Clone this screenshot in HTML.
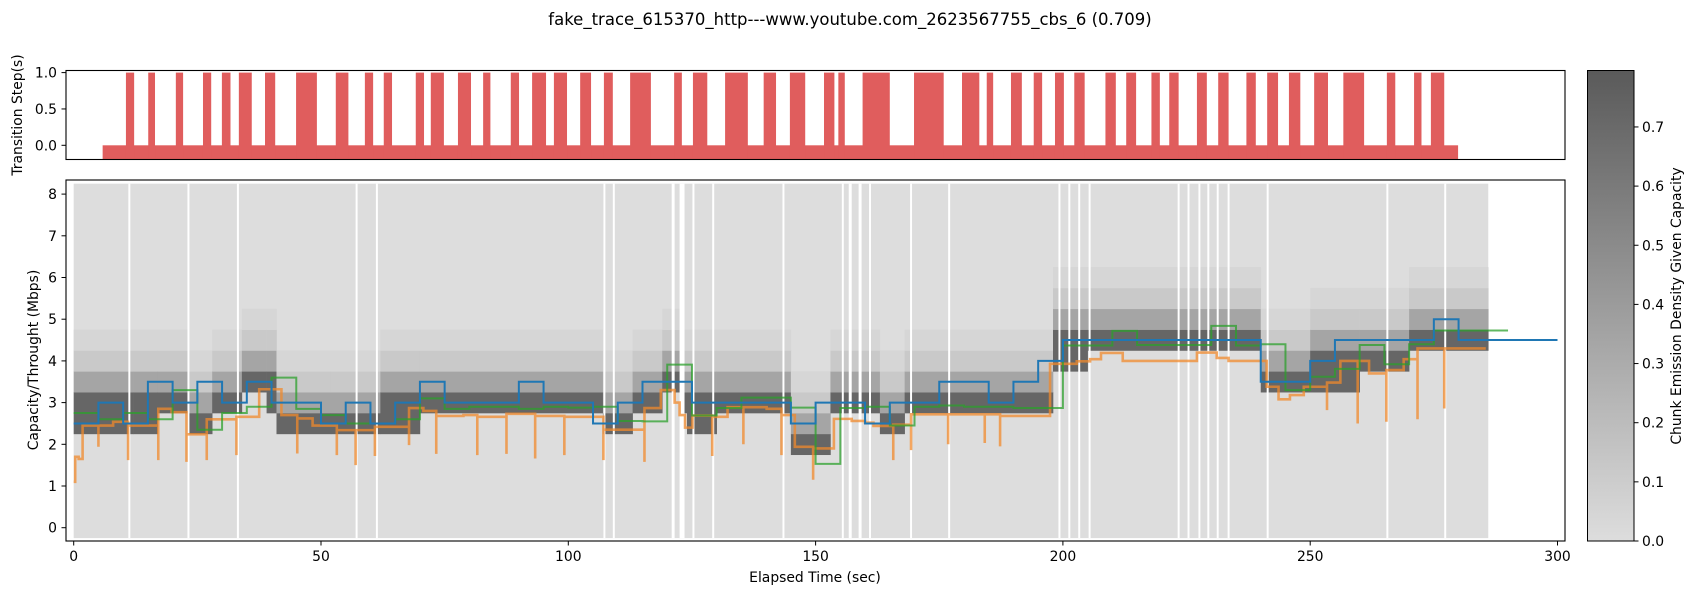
<!DOCTYPE html>
<html><head><meta charset="utf-8"><style>
html,body{margin:0;padding:0;background:#fff;}
svg{display:block;font-family:"DejaVu Sans","Liberation Sans",sans-serif;}
</style></head><body>
<svg id="chart" width="1700" height="600" viewBox="0 0 1700 600" xmlns="http://www.w3.org/2000/svg">
<defs>
<clipPath id="clipTop"><rect x="66" y="70.5" width="1499" height="89"/></clipPath>
<clipPath id="clipMain"><rect x="66" y="180" width="1499" height="361"/></clipPath>
<linearGradient id="cbGrad" x1="0" y1="1" x2="0" y2="0">
<stop offset="0" stop-color="#dddddd"/><stop offset="1" stop-color="#5a5a5a"/>
</linearGradient>
</defs>
<text x="850" y="25" text-anchor="middle" font-size="16.5" fill="#000">fake_trace_615370_http---www.youtube.com_2623567755_cbs_6 (0.709)</text>
<g id="topPanel" clip-path="url(#clipTop)"></g>
<rect x="66" y="70.5" width="1499" height="89" fill="none" stroke="#000" stroke-width="1.1"/>
<g id="mainPanel" clip-path="url(#clipMain)"></g>
<rect x="66" y="180" width="1499" height="361" fill="none" stroke="#000" stroke-width="1.1"/>
<g id="axes"></g>
<rect x="1587.5" y="70.5" width="46.5" height="470.5" fill="url(#cbGrad)" stroke="#000" stroke-width="1"/>
<text transform="translate(22,115) rotate(-90)" text-anchor="middle" font-size="13.9">Transition Step(s)</text>
<text transform="translate(38,360) rotate(-90)" text-anchor="middle" font-size="13.9">Capacity/Throught (Mbps)</text>
<text x="815" y="582" text-anchor="middle" font-size="13.9">Elapsed Time (sec)</text>
<text transform="translate(1681,306) rotate(-90)" text-anchor="middle" font-size="13.9">Chunk Emission Density Given Capacity</text>
</svg>
<script>
const tsStart=[10.56,15.07,20.65,26.14,29.96,33.39,38.68,44.96,52.99,58.87,62.69,69.16,72.2,77.69,82.78,88.37,92.68,97.09,102.4,107.2,112.5,121.4,125.2,131.7,139.5,144.8,151.7,154.6,159.5,169.9,179.6,184.6,189.5,194.1,198.4,202.3,208.6,212.8,217.9,221.5,227.1,231.4,237.1,241.3,245.7,250.8,256.7,265.5,271.0,274.4];
const tsEnd=[12.22,16.44,22.12,27.8,31.7,36.0,40.74,49.17,55.54,60.54,64.36,70.83,74.85,80.33,84.25,90.04,95.5,99.74,104.6,109.0,116.7,122.96,128.1,136.3,142.0,147.9,153.8,155.9,165.0,175.9,183.1,185.9,191.7,195.8,200.2,204.4,210.7,214.8,219.6,223.4,229.1,233.5,239.0,243.5,248.0,253.6,260.9,267.2,272.5,277.1];
const tsBase=[5.85,279.9];
const hmStart=[0,12,17,23,28,34,39,41,52,57,62,70,107,113,119,123,124,130,145,153,163,168,198,205,240,250,260,270];
const hmCenter=[2.75,2.75,3.0,2.5,3.0,3.4,3.25,2.5,2.5,2.5,2.75,3.0,2.5,3.0,3.6,3.0,2.75,3.0,2.0,2.9,2.5,3.0,4.25,4.5,3.5,3.75,4.0,4.5];
const hmEnd=286;
const gapT=[11.25,23.2,33.2,57.2,61.3,107.3,109.2,121.2,123.0,125.3,129.3,143.5,155.5,157,159,161,169.3,177,199.3,201.3,203.3,205.4,223.4,225.4,227.6,229.4,231.3,233.5,241.4,265.6,277.3];
const gapW=[0.4,0.4,0.4,0.4,0.4,0.4,0.4,0.6,1.0,0.4,0.4,0.4,0.4,0.6,0.6,0.4,0.4,0.4,0.4,0.4,0.4,0.4,0.4,0.4,0.4,0.4,0.4,0.4,0.4,0.4,0.4];
const blueV=[2.5,3.0,2.5,3.5,3.0,3.5,3.0,3.5,3.0,3.0,2.5,3.0,2.5,3.0,3.5,3.0,3.0,3.0,3.5,3.0,3.0,2.5,3.0,3.5,3.5,3.0,3.0,3.0,3.0,2.5,3.0,3.0,2.5,3.0,3.0,3.5,3.5,3.0,3.5,4.0,4.5,4.5,4.5,4.5,4.5,4.5,4.5,4.5,3.5,3.5,4.0,4.5,4.5,4.5,4.5,5.0,4.5,4.5,4.5,4.5];
const greenV=[2.75,2.6,2.75,2.6,3.3,2.35,2.75,2.9,3.6,2.85,2.7,2.5,2.5,2.6,3.1,2.85,2.9,2.9,2.85,2.9,2.88,2.9,2.56,2.55,3.91,2.69,2.87,3.12,3.12,2.88,1.53,2.87,2.9,2.45,2.9,2.93,2.9,2.9,2.87,2.87,4.37,4.37,4.72,4.38,4.38,4.38,4.84,4.37,4.4,3.3,3.62,3.81,4.38,3.92,4.4,4.73,4.73,4.73];
const orangeT=[0,0.3,1.0,1.8,7.97,11.0,17.1,19.8,22.8,26.9,32.9,37.5,42.0,45.2,48.3,53.2,60.9,67.8,70.7,73.3,78.8,81.6,87.5,93.3,99.2,107.1,115.4,118.7,121.5,122.5,123.6,125.1,129.1,132.2,140.1,143.1,145.8,149.5,153.7,157.3,160,161.7,165.7,169.3,187.3,197.4,202.8,205.5,207.7,212.1,227.1,231.1,233.5,241.2,243.6,245.9,248.7,253.4,256.1,261.9,265.4,268.9,271.7];
const orangeV=[1.1,1.7,1.65,2.45,2.54,2.45,2.85,2.77,2.24,2.6,2.66,3.32,2.7,2.62,2.45,2.34,2.42,2.87,2.8,2.68,2.7,2.66,2.73,2.68,2.66,2.35,2.87,3.3,3.0,2.7,2.4,2.69,2.66,2.89,2.85,2.7,1.94,1.9,2.61,2.56,2.52,2.44,2.47,2.72,2.68,3.93,3.99,4.04,4.19,4.0,4.2,4.07,4.0,3.38,3.08,3.18,3.38,3.48,4.0,3.7,3.78,4.04,4.3];
const orangeEnd=285.5;
const spikeT=[5,11,17.1,22.8,26.9,32.9,45.2,53.2,57,60.9,67.8,73.3,81.6,87.5,93.3,99.2,107.1,115.4,129.1,135.4,143.1,149.5,165.7,169.3,176.8,184.2,187.3,253.4,259.6,265.4,271.7,277.1];
const spikeV=[1.94,1.62,1.62,1.58,1.62,1.74,1.78,1.74,1.5,1.72,1.98,1.77,1.74,1.77,1.66,1.74,1.62,1.58,1.72,2.0,1.74,1.15,1.62,1.86,2.0,2.03,1.95,2.82,2.5,2.54,2.6,2.86];
const xTicks=[0,50,100,150,200,250,300];
const yTicks=[0,1,2,3,4,5,6,7,8];
const topTicks=[0.0,0.5,1.0];
const cbTicks=[0.0,0.1,0.2,0.3,0.4,0.5,0.6,0.7];

const NS='http://www.w3.org/2000/svg';
const X=t=>73.7+t*4.946;
const Y=v=>527.7-v*41.7;
const YT=v=>145.3-v*72.7;
const CB=v=>541-v*591.5;
function gray(d){const g=Math.round(221-(221-90)*Math.min(d,0.795)/0.795);return `rgb(${g},${g},${g})`;}
function mk(tag,attrs,parent){const e=document.createElementNS(NS,tag);for(const k in attrs)e.setAttribute(k,attrs[k]);parent.appendChild(e);return e;}

const topG=document.getElementById('topPanel');
let base=mk('rect',{x:X(tsBase[0]),y:YT(0),width:X(tsBase[1])-X(tsBase[0]),height:20,fill:'#e05d5d'},topG);


tsStart.forEach((s,i)=>{
  const r=mk('rect',{x:X(s),y:YT(1),width:X(tsEnd[i])-X(s),height:YT(-0.3)-YT(1),fill:'#e05d5d'},topG);
  
  
});

const mainG=document.getElementById('mainPanel');
let bg=mk('rect',{x:X(0),y:Y(8.25),width:X(hmEnd)-X(0),height:Y(-0.25)-Y(8.25),fill:gray(0)},mainG);


function density(bin,c){const d=bin-c;const a=Math.abs(d);
  if(a<=0.3)return 0.72;
  if(d>0){if(a<=0.8)return 0.34;if(a<=1.3)return 0.12;if(a<=1.8)return 0.04;return 0;}
  return 0;}
hmStart.forEach((s,i)=>{
  const e=i+1<hmStart.length?hmStart[i+1]:hmEnd;
  for(let k=0;k<=16;k++){const b=k*0.5;const d=density(b,hmCenter[i]);if(d<=0.001)continue;
    const r=mk('rect',{x:X(s),y:Y(b+0.25),width:X(e)-X(s)+0.3,height:Y(b-0.25)-Y(b+0.25)+0.3,fill:gray(d)},mainG);
    
    
  }
});
gapT.forEach((t,i)=>{
  const w=gapW[i]*4.946;
  const r=mk('rect',{x:X(t)-w/2,y:Y(8.25),width:w,height:Y(-0.25)-Y(8.25),fill:'#ffffff'},mainG);
  
  
});

function stepPath(vals,dt){let d=`M${X(0)},${Y(vals[0])}`;vals.forEach((v,i)=>{if(i>0)d+=` V${Y(v)}`;d+=` H${X((i+1)*dt)}`;});return d;}
let og='';
orangeT.forEach((t,i)=>{og+=(i===0?`M${X(t)},${Y(orangeV[i])}`:` H${X(t)} V${Y(orangeV[i])}`);});
og+=` H${X(orangeEnd)}`;
function levelAt(t){let v=orangeV[0];orangeT.forEach((s,i)=>{if(s<=t)v=orangeV[i];});return v;}
spikeT.forEach((t,i)=>{og+=` M${X(t)},${Y(levelAt(t))} V${Y(spikeV[i])}`;});
let o=mk('path',{d:og,fill:'none',stroke:'#f08a2c','stroke-width':2.6,'stroke-opacity':0.75},mainG);


let g=mk('path',{d:stepPath(greenV,5),fill:'none',stroke:'#2ca02c','stroke-width':2,'stroke-opacity':0.75},mainG);


let b=mk('path',{d:stepPath(blueV,5),fill:'none',stroke:'#1f77b4','stroke-width':2},mainG);



const ax=document.getElementById('axes');
xTicks.forEach(t=>{
  const l=mk('line',{x1:X(t),x2:X(t),y1:541,y2:545.5,stroke:'#000','stroke-width':1},ax);
  
  
  const tx=mk('text',{x:X(t),y:561,'text-anchor':'middle','font-size':13.9},ax);tx.textContent=t;
  
  
});
yTicks.forEach(v=>{
  const l=mk('line',{x1:61.5,x2:66,y1:Y(v),y2:Y(v),stroke:'#000','stroke-width':1},ax);
  
  
  const tx=mk('text',{x:57,y:Y(v)+5,'text-anchor':'end','font-size':13.9},ax);tx.textContent=v;
  
  
});
topTicks.forEach(v=>{
  const l=mk('line',{x1:61.5,x2:66,y1:YT(v),y2:YT(v),stroke:'#000','stroke-width':1},ax);
  
  
  const tx=mk('text',{x:57,y:YT(v)+5,'text-anchor':'end','font-size':13.9},ax);tx.textContent=v.toFixed(1);
  
  
});
cbTicks.forEach(v=>{
  const l=mk('line',{x1:1634,x2:1638.5,y1:CB(v),y2:CB(v),stroke:'#000','stroke-width':1},ax);
  
  
  const tx=mk('text',{x:1642,y:CB(v)+5,'font-size':13.9},ax);tx.textContent=v.toFixed(1);
  
  
});
</script>
</body></html>
